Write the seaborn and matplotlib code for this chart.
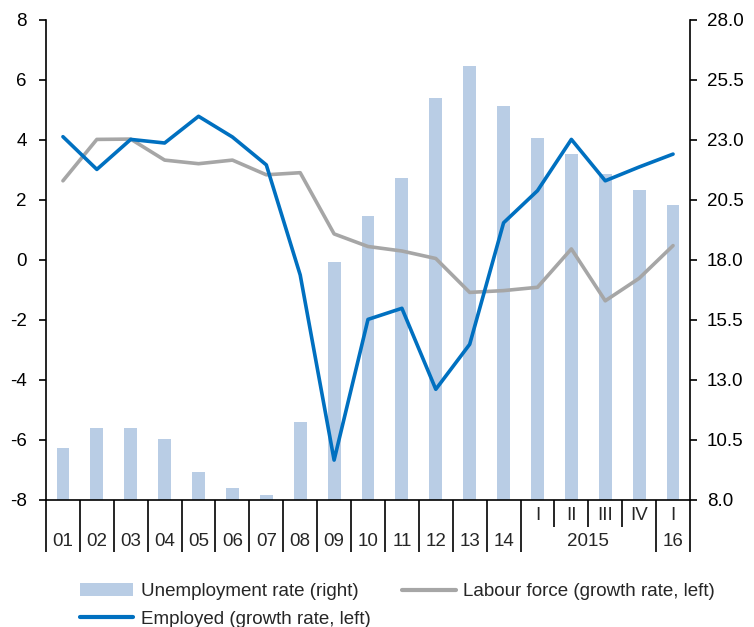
import matplotlib
matplotlib.use("Agg")
import matplotlib.pyplot as plt
from matplotlib.patches import Patch
from matplotlib.lines import Line2D
import numpy as np
import seaborn as sns

# Periods: annual 2001-2014, then quarterly 2015 Q1 - 2016 Q1
periods = ["2001", "2002", "2003", "2004", "2005", "2006", "2007", "2008",
           "2009", "2010", "2011", "2012", "2013", "2014",
           "2015Q1", "2015Q2", "2015Q3", "2015Q4", "2016Q1"]
year_labels = ["01", "02", "03", "04", "05", "06", "07", "08", "09", "10",
               "11", "12", "13", "14"]
quarter_labels = ["I", "II", "III", "IV", "I"]
group_labels = ["2015", "16"]

# Unemployment rate, % (right axis)
unemployment = [10.15, 11.0, 11.0, 10.55, 9.15, 8.5, 8.2, 11.25, 17.9, 19.85,
                21.4, 24.75, 26.1, 24.4, 23.1, 22.4, 21.6, 20.9, 20.3]
# Labour force, growth rate % (left axis)
labour_force = [2.64, 4.02, 4.03, 3.33, 3.21, 3.33, 2.84, 2.91, 0.87, 0.45,
                0.3, 0.05, -1.08, -1.02, -0.91, 0.37, -1.36, -0.61, 0.48]
# Employed, growth rate % (left axis)
employed = [4.11, 3.02, 4.02, 3.9, 4.79, 4.1, 3.17, -0.5, -6.67, -1.98,
            -1.61, -4.31, -2.81, 1.24, 2.31, 4.02, 2.64, 3.1, 3.53]

left_ticks = [-8, -6, -4, -2, 0, 2, 4, 6, 8]
right_ticks = [8.0, 10.5, 13.0, 15.5, 18.0, 20.5, 23.0, 25.5, 28.0]

BAR = "#B9CDE5"
GREY = "#A6A6A6"
BLUE = "#0070C0"
FS = 13.5

sns.set_style("ticks")
plt.rcParams["font.family"] = ["Liberation Sans", "DejaVu Sans"]
plt.rcParams["axes.unicode_minus"] = False

W, H = 754, 627
fig = plt.figure(figsize=(W / 100, H / 100), dpi=100)
ax = fig.add_axes([46 / W, 127 / H, 644 / W, 480 / H])
ax2 = ax.twinx()

n = len(periods)
pos = np.arange(n)

sns.barplot(x=periods, y=unemployment, ax=ax2, color=BAR, saturation=1,
            width=0.38, edgecolor="none")
sns.lineplot(x=pos, y=labour_force, ax=ax, color=GREY, lw=2.6)
sns.lineplot(x=pos, y=employed, ax=ax, color=BLUE, lw=2.6)

ax.set_zorder(ax2.get_zorder() + 1)
ax.patch.set_visible(False)

ax.set_xlim(-0.5, n - 0.5)
ax.set_ylim(-8, 8)
ax2.set_ylim(8, 28)
ax.set_xticks([])
ax.set_xlabel("")
ax.set_ylabel("")
ax2.set_xlabel("")
ax2.set_ylabel("")

ax.set_yticks(left_ticks)
ax.set_yticklabels([f"{v:d}" for v in left_ticks])
ax2.set_yticks(right_ticks)
ax2.set_yticklabels([f"{v:.1f}" for v in right_ticks])

for a in (ax, ax2):
    a.spines["top"].set_visible(False)
    for s in a.spines.values():
        s.set_linewidth(1.2)
        s.set_color("black")
ax.spines["right"].set_visible(False)
ax2.spines["left"].set_visible(False)
ax2.spines["bottom"].set_visible(False)

ax.tick_params(axis="y", direction="out", length=5, width=1.2, labelsize=FS,
               pad=9, colors="black")
ax2.tick_params(axis="y", direction="out", length=5, width=1.2, labelsize=FS,
                pad=7, colors="black")

# Hierarchical category axis: separators and labels below the plot
trans = ax.get_xaxis_transform()
tall = -52 / 480
short = -27 / 480
n_years = len(year_labels)
for k in range(n + 1):
    xb = k - 0.5
    is_short = n_years < k < n - 1
    ax.plot([xb, xb], [0, short if is_short else tall], transform=trans,
            color="black", lw=1.2, clip_on=False, solid_capstyle="butt")

y_low = -41 / 480
y_high = -15 / 480
for i, lab in enumerate(year_labels):
    ax.text(i, y_low, lab, transform=trans, ha="center", va="center",
            fontsize=FS)
for j, lab in enumerate(quarter_labels):
    ax.text(n_years + j, y_high, lab, transform=trans, ha="center",
            va="center", fontsize=FS)
ax.text(n_years + 1.5, y_low, group_labels[0], transform=trans, ha="center",
        va="center", fontsize=FS)
ax.text(n - 1, y_low, group_labels[1], transform=trans, ha="center",
        va="center", fontsize=FS)

handles = [Patch(facecolor=BAR, edgecolor="none"),
           Line2D([], [], color=BLUE, lw=3),
           Line2D([], [], color=GREY, lw=3)]
labels = ["Unemployment rate (right)", "Employed (growth rate, left)",
          "Labour force (growth rate, left)"]
fig.legend(handles, labels, loc="upper left",
           bbox_to_anchor=(80 / W, 1 - 583 / H), ncol=2, frameon=False,
           fontsize=FS, borderpad=0, borderaxespad=0, handlelength=2.85,
           handleheight=0.7, handletextpad=0.38, columnspacing=1.7,
           labelspacing=0.57)

fig.savefig("out.png", dpi=100)
